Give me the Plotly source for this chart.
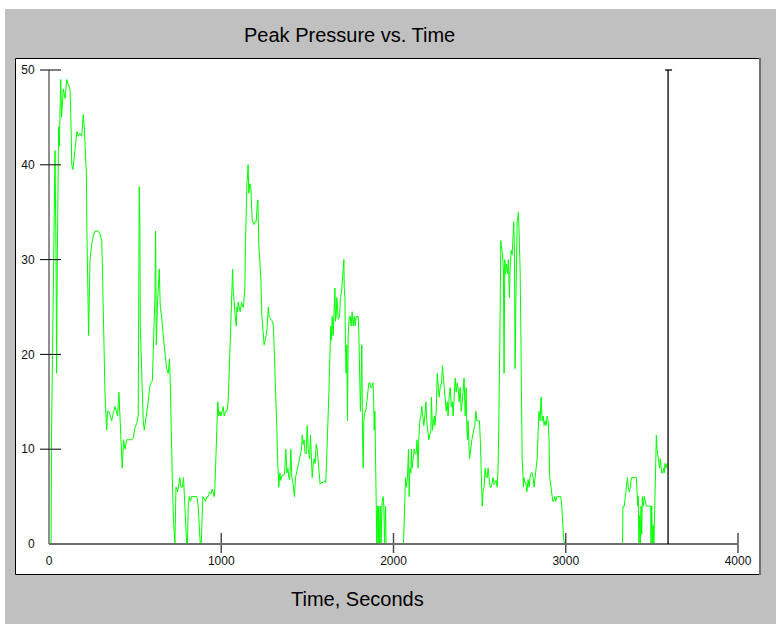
import plotly.graph_objects as go

# ---------------- data ----------------
time_a = [0, 12, 15, 23, 29, 35, 41, 44, 48, 52, 56, 60, 68, 73, 83, 93, 103, 112, 122, 128,
          132, 139, 147, 155, 162, 170, 180, 190, 199, 205, 209, 217, 220, 224, 230, 234, 238, 248, 257, 267,
          286, 296, 306, 309, 315, 321, 325, 331, 335, 340, 348, 356, 364, 373, 383, 391, 398, 406, 414, 422,
          425, 429, 433, 441, 451, 460, 470, 480, 489, 499, 509, 518, 524, 528, 530, 534, 542, 547, 553, 561,
          569, 576, 584, 592, 600, 605, 611, 615, 619, 623, 629, 634, 640, 646, 654, 663, 673, 683, 692, 700,
          704, 710, 712, 717, 723, 727]
pres_a = [0, 0, 12, 24.5, 37, 41.5, 30, 18, 30, 40, 44, 42, 49, 45, 48, 47, 49, 48.5, 48, 44,
          40, 39.5, 41, 43, 43.5, 43, 43.3, 43, 45.3, 44, 42, 39, 33, 29.5, 22, 26, 30, 31.6, 32.5, 33,
          33, 32.7, 32, 30, 24, 20, 16, 13.5, 12, 14, 14, 13.5, 13, 13.8, 14.5, 14, 13.5, 16, 13, 9.8,
          8, 9.5, 11, 10, 11, 11, 11, 11, 11.2, 12.3, 12.7, 13.5, 37.7, 33.5, 23, 20, 14.5, 13, 12, 13,
          14, 15, 16.5, 17, 17.2, 20, 22, 26, 33, 21, 25, 27.5, 29, 25, 24, 22, 20, 18.5, 18, 19.5,
          17, 10, 8, 6, 2.4, 0]

time_b = [731, 737, 741, 746, 754, 760, 766, 774, 781, 787, 793, 799, 804, 808, 814, 822, 828, 837, 851, 859,
          866, 872, 878, 884, 888, 893, 901, 909, 917, 924, 932, 940, 948, 955, 959, 963, 967, 973, 979, 980,
          986, 992, 998, 1006, 1011, 1017, 1025, 1033, 1040, 1046, 1050, 1054, 1060, 1066, 1069, 1075, 1081, 1087, 1091, 1095,
          1098, 1104, 1110, 1118, 1124, 1129, 1133, 1137, 1141, 1145, 1149, 1153, 1156, 1160, 1166, 1172, 1176, 1180, 1185, 1191,
          1197, 1203, 1209, 1213, 1218, 1224, 1230, 1236, 1240, 1244, 1249, 1255, 1261, 1267, 1273, 1278, 1286, 1296, 1303, 1307,
          1311, 1317, 1321, 1323, 1327, 1331, 1334, 1340, 1346, 1352, 1360, 1367, 1375, 1381, 1387, 1392, 1398, 1404, 1410, 1416,
          1421, 1425, 1431, 1437, 1443, 1450, 1458, 1466, 1470, 1476, 1481]
pres_b = [0, 6, 5.9, 5.5, 6.7, 7, 6, 6, 7, 4, 2, 0, 0, 4, 5, 4.5, 5, 5, 5, 5,
          4, 2, 0, 0, 2, 5, 4.8, 4.5, 5, 5, 5.5, 5.3, 5.8, 5.3, 5, 6, 8, 10, 13, 15,
          13.5, 14, 13.5, 14, 14.5, 13.5, 14, 14, 15, 18, 20, 22, 25, 29, 27, 25, 24, 23, 25, 24.5,
          25.5, 25, 24.5, 25.5, 25, 25, 26, 27, 32, 37, 38, 39, 40, 37, 38, 37.5, 35, 34, 34, 33.7,
          34, 34, 36, 36.3, 31.6, 30, 28, 24, 23, 21.5, 21, 21.5, 22, 23, 25, 24, 23.7, 23.5, 23, 21,
          19, 17, 15, 12, 9, 7, 6, 7.5, 6.7, 7.2, 7.3, 7.3, 10, 7.5, 8, 7, 6.8, 10, 7, 6.5,
          5.5, 5, 7, 7.5, 8, 8.5, 9.5, 10, 11.5, 10.5, 11]

time_c = [1486, 1493, 1499, 1505, 1513, 1518, 1524, 1528, 1534, 1540, 1545, 1551, 1557, 1563, 1569, 1574, 1582, 1592, 1602, 1607,
          1613, 1619, 1625, 1631, 1636, 1640, 1644, 1650, 1656, 1660, 1663, 1667, 1671, 1679, 1687, 1692, 1698, 1704, 1708, 1712,
          1714, 1718, 1721, 1725, 1729, 1733, 1737, 1743, 1749, 1754, 1760, 1766, 1772, 1778, 1783, 1789, 1795, 1799, 1805, 1808,
          1812, 1816, 1820, 1824, 1828, 1834, 1839, 1845, 1851, 1857, 1863, 1868, 1874, 1880, 1884, 1888, 1892, 1896, 1899, 1903,
          1907, 1911, 1915, 1919, 1925, 1928, 1934, 1940, 1944, 1948, 1954, 1957, 2058, 2062, 2070, 2075, 2081, 2087, 2091, 2095,
          2101, 2104, 2108, 2114, 2120, 2126, 2131, 2137, 2143, 2147, 2153, 2159, 2164, 2170, 2176, 2182, 2188, 2193, 2199, 2205,
          2211, 2217, 2220, 2226, 2232, 2238]
pres_c = [9.6, 9.5, 12.5, 10, 9, 11.5, 8, 7, 8.5, 9, 8.5, 10.5, 10, 8.5, 7, 6.3, 6.5, 6.5, 6.7, 6.5,
          9.5, 12, 16, 20, 23, 21.5, 24, 22, 25, 27, 23.5, 24, 26, 23.7, 24, 26, 26.5, 28, 30, 30,
          27, 26, 21, 18, 21, 13, 22, 24, 24, 23, 24.5, 23, 24, 23, 24, 24, 24, 22, 16, 14,
          17, 21, 12, 8, 13, 14, 14, 15, 16, 17, 17, 16.5, 16.5, 17, 16, 12, 14, 7, 4, 0,
          4, 0, 4, 0, 4, 0, 4.5, 5, 4, 0, 4, 0, 0, 3, 7, 6, 7, 10, 5, 8,
          7.5, 10, 8, 9, 10, 9.5, 9.5, 11, 8, 11, 13, 13.5, 14.5, 13.5, 12.5, 13.5, 15, 13, 11.5, 11,
          11.5, 12, 15.5, 12, 13, 13.5]

time_d = [2240, 2248, 2254, 2259, 2265, 2271, 2279, 2284, 2290, 2294, 2300, 2306, 2312, 2317, 2323, 2329, 2335, 2341, 2346, 2352,
          2358, 2364, 2370, 2375, 2381, 2387, 2393, 2399, 2404, 2410, 2416, 2422, 2426, 2430, 2433, 2437, 2441, 2445, 2449, 2455,
          2460, 2466, 2472, 2478, 2484, 2491, 2499, 2505, 2509, 2515, 2520, 2526, 2532, 2538, 2544, 2549, 2555, 2561, 2567, 2573,
          2578, 2584, 2590, 2596, 2602, 2607, 2611, 2615, 2619, 2623, 2627, 2633, 2638, 2642, 2646, 2650, 2656, 2662, 2667, 2673,
          2677, 2683, 2689, 2694, 2698, 2702, 2706, 2710, 2714, 2718, 2722, 2725, 2729, 2735, 2739, 2743, 2747, 2751, 2754, 2758,
          2762, 2768, 2774, 2782, 2787, 2793, 2799, 2805, 2811, 2816, 2822, 2828, 2834, 2840, 2845, 2851, 2857, 2863, 2869, 2874,
          2880, 2886, 2892, 2898, 2903, 2907, 2913, 2919, 2925, 2930, 2936, 2942, 2948, 2954, 2959, 2965, 2971, 2977, 2983, 2988,
          2994]
pres_d = [12.5, 14, 18, 16.5, 15.5, 16.5, 17, 18.8, 17.5, 16, 15.5, 14, 15, 13.5, 15.5, 16.5, 14.5, 15, 13.5, 16,
          17.5, 16, 17, 16.5, 15, 16.5, 14, 15, 16, 17.5, 13.5, 16.5, 12, 11, 13, 9.5, 9, 9.5, 10.5, 11,
          11.5, 12, 12.5, 14, 13, 13, 13, 10.5, 6, 4, 5.5, 6, 8, 7, 7, 8, 7, 6, 6, 6.5,
          7, 6.3, 6.5, 6.7, 6, 8, 12, 16, 24, 32, 31.5, 30.5, 29, 18, 30, 28.5, 29.5, 28.5, 30, 26,
          29, 31, 30.5, 32.5, 34, 31, 18.5, 25, 32, 34, 34.5, 35, 33, 29, 23, 10, 9, 7.5, 6, 7,
          6.5, 6.5, 5.5, 6.8, 6, 7, 7.5, 7.5, 7, 6, 7, 8, 9, 12, 14, 13, 15.5, 13, 13.5, 12.5,
          13, 12.5, 13.5, 13, 11, 7, 6, 5, 4.5, 4.5, 5, 4.5, 5, 5, 5, 5, 5, 4, 2, 0.5,
          0]

time_e = [3330, 3332, 3340, 3346, 3352, 3358, 3363, 3369, 3375, 3381, 3390, 3400, 3410, 3414, 3418, 3421, 3425, 3429, 3433, 3437,
          3441, 3445, 3450, 3456, 3462, 3468, 3478, 3487, 3493, 3495, 3499, 3503, 3507, 3512, 3518, 3522, 3526, 3530, 3534, 3539,
          3545, 3549, 3553, 3557, 3563, 3568, 3572, 3576, 3582, 3588]
pres_e = [0, 4, 4, 5, 6, 7, 6, 5.5, 6, 7, 7, 7, 7, 5.5, 4, 5, 0, 3, 0, 4,
          1, 5, 4, 5, 4.5, 4, 4, 4, 4, 0, 4, 0, 2, 0, 4, 8, 11.5, 10, 9.5, 8.5,
          8, 9, 8, 7.5, 7.5, 8, 7.5, 8.5, 8, 8.5]

end_time = 3594          # position of the end-of-run marker line
x_ticks = [0, 1000, 2000, 3000, 4000]
y_ticks = [0, 10, 20, 30, 40, 50]
x_range = [0, 4000]
y_range = [0, 50]

title_text = "Peak Pressure vs. Time"
x_title = "Time, Seconds"

time_s = time_a + time_b + time_c + time_d + time_e
pressure = pres_a + pres_b + pres_c + pres_d + pres_e

# ---------------- figure ----------------
W, H = 776, 624
L, R, T, B = 49, 38, 70, 80
PW, PH = W - L - R, H - T - B


def px(x):
    return (x - L) / PW


def py(y):
    return (H - B - y) / PH


def dx(v):  # data x -> paper x
    return (v - x_range[0]) / (x_range[1] - x_range[0])


def dy(v):  # data y -> paper y
    return (v - y_range[0]) / (y_range[1] - y_range[0])


FONT = "Arial, Liberation Sans, sans-serif"

fig = go.Figure()
fig.add_trace(go.Scatter(
    x=time_s, y=pressure, mode="lines",
    line=dict(color="#00ff00", width=1),
    cliponaxis=False, hoverinfo="skip", showlegend=False,
))

shapes = []
# gray frame background
shapes.append(dict(type="rect", xref="paper", yref="paper", layer="below",
                   x0=px(5), x1=px(W + 2), y0=py(9), y1=py(H + 2),
                   fillcolor="#c0c0c0", line=dict(width=0)))
# white chart box
shapes.append(dict(type="rect", xref="paper", yref="paper", layer="below",
                   x0=px(15.5), x1=px(759.5), y0=py(58.5), y1=py(574.5),
                   fillcolor="#ffffff", line=dict(color="#000000", width=1)))
shapes.append(dict(type="line", xref="paper", yref="paper", layer="below",
                   x0=px(760), x1=px(760), y0=py(58), y1=py(575),
                   line=dict(color="#707070", width=2)))

# y tick marks (crossing the axis)
for v in y_ticks[1:]:
    shapes.append(dict(type="line", xref="paper", yref="paper", xsizemode="pixel", xanchor=0,
                       x0=-9, x1=12, y0=dy(v), y1=dy(v), layer="above",
                       line=dict(color="#000000", width=1)))
# x tick marks
for v in x_ticks[1:]:
    shapes.append(dict(type="line", xref="paper", yref="paper", ysizemode="pixel", yanchor=0,
                       x0=dx(v), x1=dx(v), y0=-9, y1=11, layer="above",
                       line=dict(color="#505050", width=1.5)))
# axis lines
shapes.append(dict(type="line", xref="paper", yref="paper", x0=0, x1=0, y0=0, y1=1,
                   layer="above", line=dict(color="#202020", width=1)))
shapes.append(dict(type="line", xref="paper", yref="paper", x0=0, x1=1, y0=0, y1=0,
                   layer="above", line=dict(color="#6e6e6e", width=2)))
# end marker line with cap
shapes.append(dict(type="line", xref="paper", yref="paper", x0=dx(end_time), x1=dx(end_time),
                   y0=0, y1=1, layer="above", line=dict(color="#000000", width=1.3)))
shapes.append(dict(type="line", xref="paper", yref="paper", xsizemode="pixel", xanchor=dx(end_time),
                   x0=-3, x1=4, y0=1, y1=1, layer="above",
                   line=dict(color="#000000", width=1.3)))

annotations = [
    dict(text=title_text, xref="paper", yref="paper", x=px(349), y=py(35),
         xanchor="center", yanchor="middle", showarrow=False,
         font=dict(family=FONT, size=20, color="#000000")),
    dict(text=x_title, xref="paper", yref="paper", x=px(357.5), y=py(599),
         xanchor="center", yanchor="middle", showarrow=False,
         font=dict(family=FONT, size=20, color="#000000")),
]

fig.update_layout(
    width=W, height=H, autosize=False,
    margin=dict(l=L, r=R, t=T, b=B, pad=0),
    paper_bgcolor="#ffffff", plot_bgcolor="rgba(0,0,0,0)",
    shapes=shapes, annotations=annotations,
    showlegend=False,
    xaxis=dict(range=x_range, tickvals=x_ticks, ticktext=[str(v) for v in x_ticks],
               showgrid=False, zeroline=False, showline=False,
               ticks="outside", ticklen=6, tickcolor="rgba(0,0,0,0)",
               tickfont=dict(family=FONT, size=12, color="#111111"), fixedrange=True),
    yaxis=dict(range=y_range, tickvals=y_ticks, ticktext=[str(v) for v in y_ticks],
               showgrid=False, zeroline=False, showline=False,
               ticks="outside", ticklen=11, tickcolor="rgba(0,0,0,0)",
               tickfont=dict(family=FONT, size=12, color="#111111"), fixedrange=True),
)

fig.write_html("out.html", config=dict(displayModeBar=False))
